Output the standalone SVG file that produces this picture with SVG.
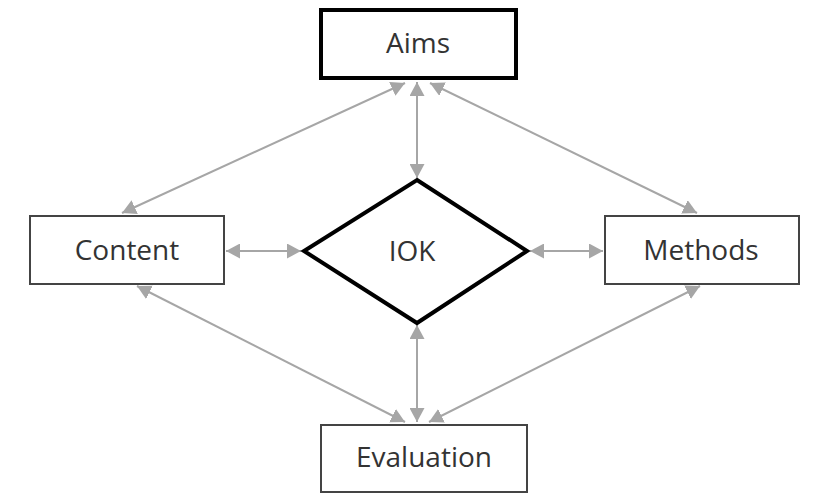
<svg xmlns="http://www.w3.org/2000/svg" width="823" height="495" viewBox="0 0 823 495">
  <style>
    .box { fill: #ffffff; stroke: #444444; stroke-width: 2; }
    .bold { fill: #ffffff; stroke: #000000; stroke-width: 4; stroke-linejoin: miter; }
    .label { font-family: "Open Sans", "Noto Sans", sans-serif; font-size: 28px; fill: #333333; text-anchor: middle; }
    .link { stroke: #a6a6a6; stroke-width: 2; fill: none; marker-start: url(#head); marker-end: url(#head); }
  </style>
  <defs>
    <marker id="head" markerUnits="userSpaceOnUse" markerWidth="14" markerHeight="15" refX="14" refY="7.5" orient="auto-start-reverse">
      <path d="M0,0 L14,7.5 L0,15 z" fill="#a6a6a6"/>
    </marker>
  </defs>
  <rect width="823" height="495" fill="#ffffff"/>

  <g id="connectors">
    <line class="link" x1="417" y1="82" x2="417" y2="178"/>
    <line class="link" x1="122" y1="213" x2="405" y2="83"/>
    <line class="link" x1="430" y1="83" x2="697" y2="213"/>
    <line class="link" x1="137" y1="286" x2="405" y2="422"/>
    <line class="link" x1="700" y1="286" x2="429" y2="422"/>
    <line class="link" x1="417" y1="325" x2="417" y2="422"/>
    <line class="link" x1="226" y1="251" x2="301" y2="251"/>
    <line class="link" x1="530" y1="251" x2="603" y2="251"/>
  </g>

  <g id="aims">
    <rect class="bold" x="321" y="10" width="195" height="68"/>
    <text class="label" x="418" y="53">Aims</text>
  </g>
  <g id="content">
    <rect class="box" x="30" y="216" width="194" height="68"/>
    <text class="label" x="127" y="260">Content</text>
  </g>
  <g id="methods">
    <rect class="box" x="605" y="216" width="194" height="68"/>
    <text class="label" x="701" y="260">Methods</text>
  </g>
  <g id="iok">
    <polygon class="bold" points="417,180 527,251 417,323 304,251"/>
    <text class="label" x="412" y="261">IOK</text>
  </g>
  <g id="evaluation">
    <rect class="box" x="321" y="425" width="206" height="67"/>
    <text class="label" x="424" y="467">Evaluation</text>
  </g>
</svg>
